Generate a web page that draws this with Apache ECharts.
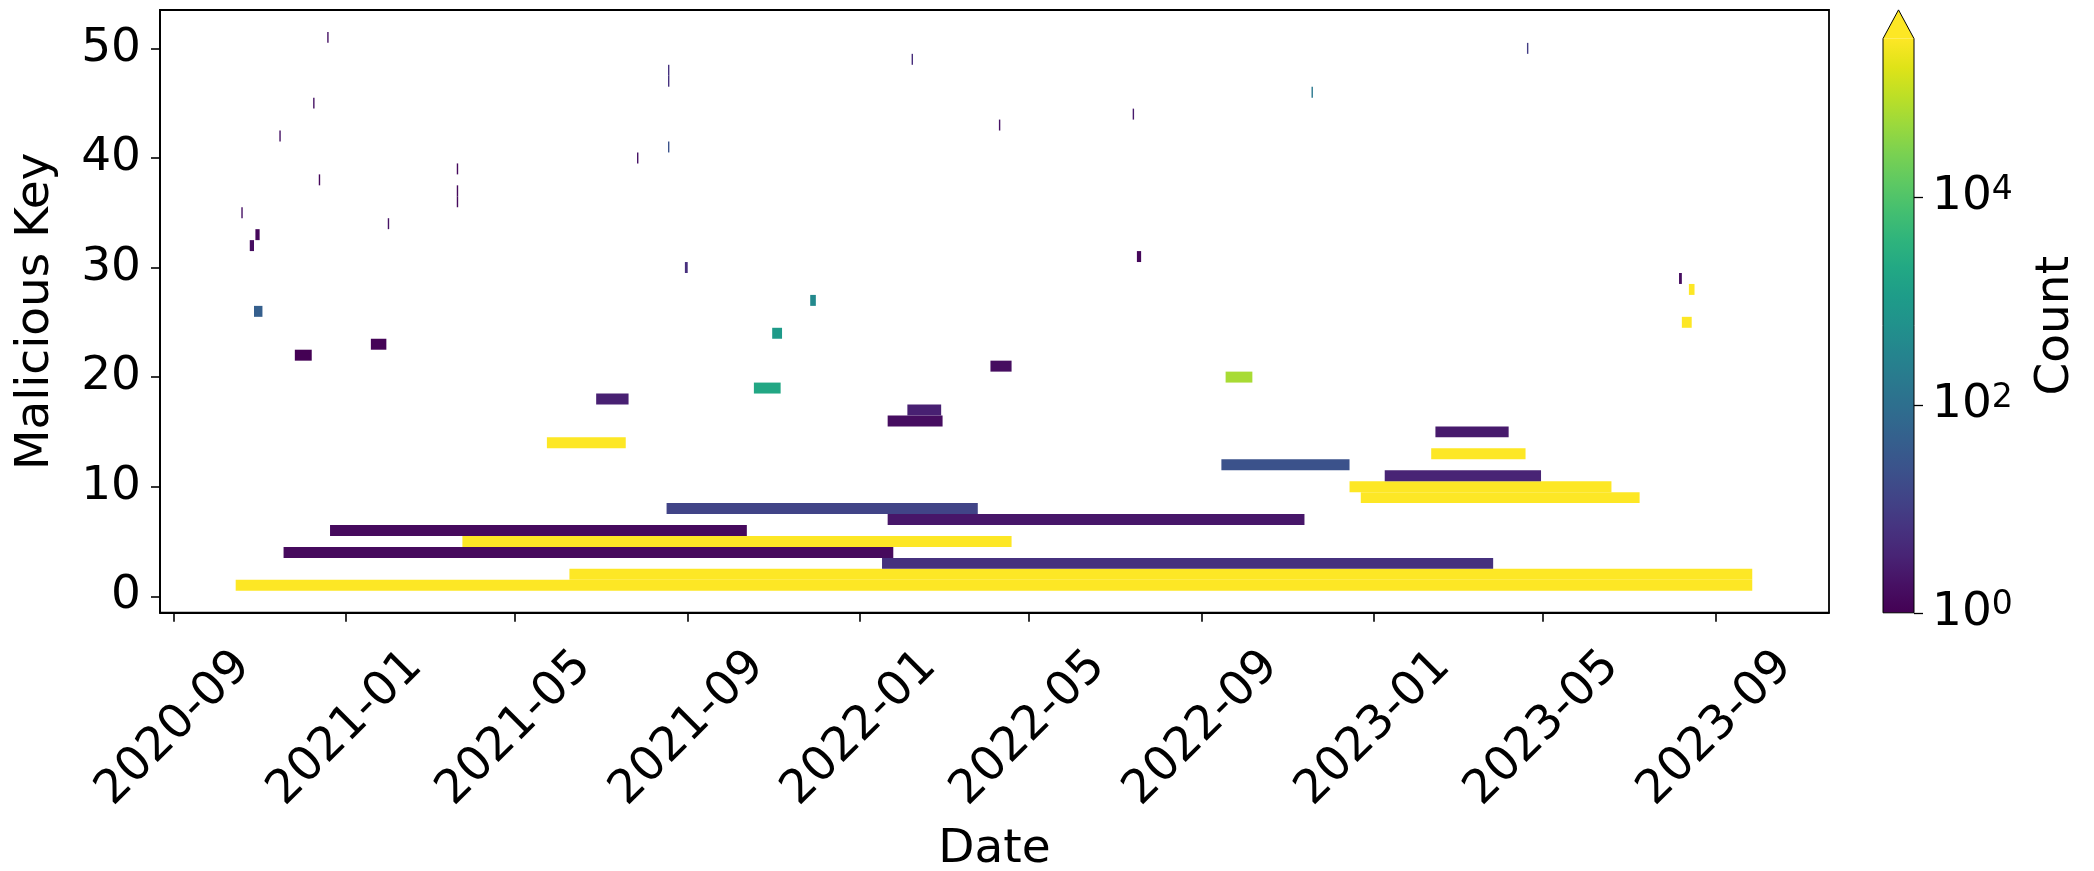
<!DOCTYPE html>
<html>
<head>
<meta charset="utf-8">
<script src="https://cdn.jsdelivr.net/npm/echarts@6/dist/echarts.min.js"></script>
<style>
html, body { margin: 0; padding: 0; background: #fff; }
#chart { width: 2094px; height: 871px; }
</style>
</head>
<body>
<div id="chart"></div>
<script>
// one row per malicious key: first day, last day, log10 of the count
var keys = [1, 2, 3, 4, 5, 6, 7, 8, 9, 10,
    11, 12, 13, 14, 15, 16, 17, 18, 19, 20,
    21, 22, 23, 24, 25, 26, 27, 28, 29, 30,
    31, 32, 33, 34, 35, 36, 37, 38, 39, 40,
    41, 42, 43, 44, 45, 46, 47, 48, 49, 50, 51];
var startDates = ['2020-10-15', '2021-06-09', '2022-01-17', '2020-11-18', '2021-03-25',
    '2020-12-21', '2022-01-21', '2021-08-17', '2022-12-23', '2022-12-15',
    '2023-01-09', '2022-09-15', '2023-02-11', '2021-05-24', '2023-02-14',
    '2022-01-21', '2022-02-04', '2021-06-28', '2021-10-18', '2022-09-18',
    '2022-04-04', '2020-11-26', '2021-01-19', '2021-10-31', '2023-08-08',
    '2020-10-28', '2021-11-27', '2023-08-13', '2023-08-06', '2021-08-30',
    '2022-07-17', '2020-10-25', '2020-10-29', '2021-01-31', '2020-10-19',
    '2021-03-21', '2021-03-21', '2020-12-13', '2021-03-21', '2021-07-27',
    '2021-08-18', '2020-11-15', '2022-04-10', '2022-07-14', '2020-12-09',
    '2022-11-18', '2021-08-18', '2021-08-18', '2022-02-07', '2023-04-20', '2020-12-19'];
var endDates = ['2023-09-27', '2023-09-27', '2023-03-27', '2022-01-25', '2022-04-19',
    '2021-10-13', '2022-11-13', '2022-03-26', '2023-07-09', '2023-06-19',
    '2023-04-30', '2022-12-15', '2023-04-19', '2021-07-19', '2023-04-07',
    '2022-03-01', '2022-02-28', '2021-07-21', '2021-11-06', '2022-10-07',
    '2022-04-19', '2020-12-08', '2021-01-30', '2021-11-07', '2023-08-15',
    '2020-11-03', '2021-12-01', '2023-08-17', '2023-08-08', '2021-09-01',
    '2022-07-20', '2020-10-28', '2020-11-01', '2021-02-01', '2020-10-20',
    '2021-03-22', '2021-03-22', '2020-12-14', '2021-03-22', '2021-07-28',
    '2021-08-19', '2020-11-16', '2022-04-11', '2022-07-15', '2020-12-10',
    '2022-11-19', '2021-08-19', '2021-08-19', '2022-02-08', '2023-04-21', '2020-12-20'];
var logCounts = [6, 6, 0.78, 0.15, 6, 0.15, 0.35, 1.1, 6, 6,
    0.55, 1.38, 6, 6, 0.4, 0.2, 0.5, 0.5, 3.3, 4.8,
    0.2, 0, 0.05, 3.0, 6, 1.66, 2.6, 6, 0.2, 0.75,
    0.1, 0.2, 0.1, 0.3, 0.3, 0.15, 0.15, 0.1, 0.15, 0.3,
    1.4, 0.3, 0.3, 0.4, 0.3, 2.2, 0.8, 0.8, 0.7, 1.0, 0.3];

var xTicks = ['2020-09-01', '2021-01-01', '2021-05-01', '2021-09-01', '2022-01-01',
    '2022-05-01', '2022-09-01', '2023-01-01', '2023-05-01', '2023-09-01'];
var yTicks = [0, 10, 20, 30, 40, 50];
var cbTicks = [0, 2, 4];          // exponents of 10 on the colour bar
var LOG_MAX = 5.526;              // top of the colour bar, log10

var viridisStops = ['#440154', '#471164', '#482475', '#463480', '#414487', '#3b528b',
    '#355f8d', '#2f6c8e', '#2a788e', '#25848e', '#21918c', '#1e9c89', '#22a884',
    '#2fb47c', '#44bf70', '#5ec962', '#7ad151', '#9bd93c', '#bddf26', '#dfe318', '#fde725'];

function ts(s) {
    var p = s.split('-');
    return Date.UTC(+p[0], +p[1] - 1, +p[2]);
}

function hexToRgb(h) {
    return [parseInt(h.substr(1, 2), 16), parseInt(h.substr(3, 2), 16), parseInt(h.substr(5, 2), 16)];
}

function viridis(t) {
    t = Math.max(0, Math.min(1, t));
    var n = viridisStops.length - 1;
    var i = Math.min(Math.floor(t * n), n - 1);
    var f = t * n - i;
    var a = hexToRgb(viridisStops[i]), b = hexToRgb(viridisStops[i + 1]);
    var c = a.map(function (v, j) { return Math.round(v + (b[j] - v) * f); });
    return 'rgb(' + c.join(',') + ')';
}

var barData = keys.map(function (k, i) {
    return [ts(startDates[i]), ts(endDates[i]), k, logCounts[i]];
});

function renderBar(params, api) {
    var k = api.value(2);
    var p0 = api.coord([api.value(0), k - 0.5]);
    var p1 = api.coord([api.value(1), k + 0.5]);
    return {
        type: 'rect',
        shape: { x: p0[0], y: p1[1], width: p1[0] - p0[0], height: p0[1] - p1[1] },
        style: { fill: viridis(api.value(3) / LOG_MAX) }
    };
}

// colour bar with the "extend max" triangle on top
function renderColorbar(params, api) {
    var b = api.coord([0, 0]);
    var t = api.coord([1, LOG_MAX]);
    var h = b[1] - t[1];
    var tip = t[1] - 0.05 * h;
    var xm = (b[0] + t[0]) / 2;
    var stops = viridisStops.map(function (c, i) {
        return { offset: i / (viridisStops.length - 1), color: c };
    });
    return {
        type: 'group',
        children: [{
            type: 'rect',
            shape: { x: b[0], y: t[1], width: t[0] - b[0], height: h },
            style: { fill: new echarts.graphic.LinearGradient(0, 1, 0, 0, stops) }
        }, {
            type: 'polygon',
            shape: { points: [[b[0], t[1]], [t[0], t[1]], [xm, tip]] },
            style: { fill: viridis(1) }
        }, {
            type: 'polygon',
            shape: { points: [[b[0], b[1]], [t[0], b[1]], [t[0], t[1]], [xm, tip], [b[0], t[1]]] },
            style: { fill: 'none', stroke: '#000', lineWidth: 1 }
        }]
    };
}

var FONT = 'DejaVu Sans';
var FS = 47;

var chart = echarts.init(document.getElementById('chart'));
chart.setOption({
    animation: false,
    backgroundColor: '#fff',
    grid: [
        { left: 160, top: 10, width: 1669, height: 602.7, outerBoundsMode: 'none', show: true, borderColor: '#000', borderWidth: 1.8, backgroundColor: 'transparent' },
        { left: 1883, top: 38.6, width: 31, height: 574.2, outerBoundsMode: 'none' }
    ],
    xAxis: [{
        type: 'value',
        gridIndex: 0,
        min: Date.UTC(2020, 7, 22, 6),
        max: Date.UTC(2023, 10, 20, 12),
        axisLine: { show: true, onZero: false, lineStyle: { color: '#000', width: 1.8 } },
        axisTick: { show: true, customValues: xTicks.map(ts), length: 9, lineStyle: { color: '#000', width: 1.6 } },
        axisLabel: {
            customValues: xTicks.map(ts),
            rotate: 45, align: 'center', verticalAlign: 'middle', margin: 116,
            fontFamily: FONT, fontSize: FS, color: '#000',
            formatter: function (v) {
                var d = new Date(v);
                var m = d.getUTCMonth() + 1;
                return d.getUTCFullYear() + '-' + (m < 10 ? '0' : '') + m;
            }
        },
        splitLine: { show: false },
        name: 'Date', nameLocation: 'middle', nameGap: 209,
        nameTextStyle: { fontFamily: FONT, fontSize: FS, color: '#000', lineHeight: 56 }
    }, {
        type: 'value', gridIndex: 1, min: 0, max: 1, show: false
    }],
    yAxis: [{
        type: 'value',
        gridIndex: 0,
        min: -1.5, max: 53.5,
        axisLine: { show: true, onZero: false, lineStyle: { color: '#000', width: 1.8 } },
        axisTick: { show: true, customValues: yTicks, length: 9, lineStyle: { color: '#000', width: 1.6 } },
        axisLabel: { customValues: yTicks, margin: 19, fontFamily: FONT, fontSize: FS, color: '#000' },
        splitLine: { show: false },
        name: 'Malicious Key', nameLocation: 'middle', nameGap: 96,
        nameTextStyle: { fontFamily: FONT, fontSize: FS, color: '#000', lineHeight: 56 }
    }, {
        type: 'value',
        gridIndex: 1,
        position: 'right',
        min: 0, max: LOG_MAX,
        axisLine: { show: false, onZero: false },
        axisTick: { show: true, customValues: cbTicks, length: 9, lineStyle: { color: '#000', width: 1.3 } },
        axisLabel: {
            customValues: cbTicks, margin: 18, color: '#000',
            formatter: function (v) { return '{b|10}{s|' + v + '}'; },
            rich: {
                b: { fontFamily: FONT, fontSize: FS, color: '#000' },
                s: { fontFamily: FONT, fontSize: 33, color: '#000', verticalAlign: 'top' }
            }
        },
        splitLine: { show: false },
        name: 'Count', nameLocation: 'middle', nameGap: 114, nameRotate: 90,
        nameTextStyle: { fontFamily: FONT, fontSize: FS, color: '#000', lineHeight: 56 }
    }],
    series: [{
        type: 'custom',
        xAxisIndex: 0, yAxisIndex: 0,
        renderItem: renderBar,
        encode: { x: [0, 1], y: 2 },
        data: barData
    }, {
        type: 'custom',
        xAxisIndex: 1, yAxisIndex: 1,
        renderItem: renderColorbar,
        clip: false,
        encode: { x: 0, y: 1 },
        data: [[0, 0]]
    }]
});
</script>
</body>
</html>
